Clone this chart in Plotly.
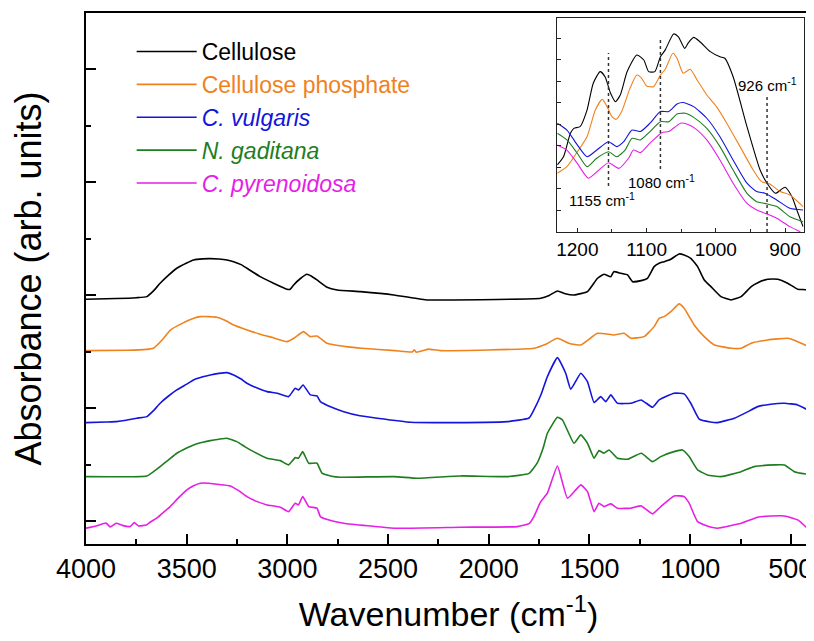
import plotly.graph_objects as go

# ---------------- main spectra (stacked, arb. units) ----------------
cellulose_wn = [4000, 3850, 3750, 3698, 3665, 3632, 3590, 3549, 3500, 3466, 3420, 3383, 3340, 3300,
                3267, 3230, 3201, 3135, 3069, 3002, 2986, 2969, 2935, 2903, 2880, 2853, 2803, 2753,
                2637, 2472, 2306, 2240, 1742, 1700, 1659, 1620, 1577, 1510, 1460, 1428, 1394, 1379,
                1345, 1311, 1286, 1243, 1212, 1179, 1154, 1129, 1096, 1055, 1030, 997, 963, 930,
                897, 847, 797, 747, 697, 664, 615, 565, 516, 466, 416, 400]
cellulose_abs = [3.933, 3.945, 3.960, 3.979, 4.080, 4.216, 4.360, 4.481, 4.575, 4.628, 4.648, 4.651,
                 4.645, 4.628, 4.598, 4.545, 4.481, 4.333, 4.216, 4.110, 4.110, 4.186, 4.300, 4.375,
                 4.340, 4.274, 4.145, 4.097, 4.067, 4.009, 3.920, 3.920, 3.950, 4.000, 4.080, 4.030,
                 4.009, 4.067, 4.304, 4.375, 4.333, 4.421, 4.393, 4.363, 4.244, 4.262, 4.304, 4.510,
                 4.570, 4.598, 4.641, 4.735, 4.717, 4.658, 4.510, 4.274, 4.156, 3.979, 3.920, 3.979,
                 4.156, 4.226, 4.287, 4.287, 4.216, 4.110, 4.097, 4.009]

phosphate_wn = [4000, 3800, 3700, 3665, 3620, 3580, 3520, 3465, 3433, 3390, 3350, 3310, 3267, 3200,
                3140, 3070, 3002, 2968, 2920, 2887, 2853, 2803, 2700, 2630, 2465, 2380, 2370, 2360,
                2320, 2300, 2240, 1775, 1720, 1659, 1600, 1543, 1460, 1378, 1328, 1295, 1229, 1179,
                1154, 1129, 1096, 1055, 1030, 980, 930, 880, 797, 747, 697, 615, 516, 466, 416, 400]
phosphate_abs = [3.023, 3.030, 3.045, 3.065, 3.220, 3.389, 3.510, 3.596, 3.625, 3.625, 3.614, 3.560,
                 3.478, 3.390, 3.319, 3.250, 3.182, 3.242, 3.359, 3.271, 3.283, 3.154, 3.090, 3.065,
                 3.023, 3.000, 3.040, 2.995, 3.030, 3.050, 3.023, 3.065, 3.130, 3.242, 3.150, 3.124,
                 3.331, 3.301, 3.331, 3.242, 3.271, 3.448, 3.596, 3.625, 3.713, 3.850, 3.773, 3.478,
                 3.271, 3.124, 3.065, 3.065, 3.154, 3.212, 3.242, 3.182, 3.094, 2.917]

vulgaris_wn = [4000, 3900, 3850, 3800, 3748, 3698, 3665, 3632, 3590, 3549, 3500, 3466, 3420, 3383,
               3340, 3300, 3267, 3230, 3201, 3150, 3101, 3051, 2994, 2961, 2945, 2922, 2886, 2853,
               2836, 2780, 2720, 2640, 2554, 2389, 2240, 1908, 1800, 1776, 1740, 1709, 1659, 1618,
               1593, 1543, 1510, 1477, 1444, 1419, 1394, 1361, 1295, 1243, 1187, 1154, 1080, 1030,
               997, 955, 900, 864, 781, 720, 665, 600, 532, 466, 400]
vulgaris_abs = [1.749, 1.760, 1.766, 1.790, 1.827, 1.855, 1.960, 2.092, 2.220, 2.327, 2.430, 2.504,
                2.560, 2.593, 2.620, 2.634, 2.593, 2.520, 2.446, 2.360, 2.297, 2.269, 2.209, 2.358,
                2.327, 2.416, 2.239, 2.221, 2.120, 2.020, 1.943, 1.870, 1.827, 1.756, 1.749, 1.766,
                1.830, 1.973, 2.250, 2.563, 2.899, 2.623, 2.340, 2.623, 2.474, 2.103, 2.209, 2.120,
                2.239, 2.092, 2.092, 2.150, 2.021, 2.150, 2.269, 2.257, 2.092, 1.809, 1.760, 1.749,
                1.827, 1.930, 2.032, 2.075, 2.092, 2.062, 1.943]

gaditana_wn = [4000, 3698, 3665, 3632, 3590, 3549, 3500, 3466, 3420, 3383, 3340, 3300, 3251, 3210,
               3168, 3101, 3035, 2994, 2961, 2945, 2924, 2894, 2853, 2828, 2780, 2737, 2470, 2356,
               2140, 1908, 1800, 1760, 1730, 1709, 1659, 1634, 1577, 1543, 1510, 1477, 1453, 1428,
               1403, 1361, 1311, 1243, 1187, 1146, 1080, 1038, 1005, 963, 914, 847, 747, 682, 582,
               532, 483, 400]
gaditana_abs = [0.793, 0.805, 0.880, 0.970, 1.090, 1.207, 1.300, 1.354, 1.400, 1.430, 1.455, 1.473,
                1.412, 1.320, 1.235, 1.119, 1.076, 1.000, 1.129, 1.119, 1.235, 1.030, 1.030, 0.853,
                0.800, 0.782, 0.793, 0.765, 0.805, 0.793, 0.850, 1.030, 1.300, 1.561, 1.844, 1.796,
                1.384, 1.531, 1.384, 1.119, 1.253, 1.207, 1.265, 1.119, 1.101, 1.207, 1.058, 1.147,
                1.235, 1.265, 1.147, 0.912, 0.823, 0.793, 0.881, 0.970, 1.000, 1.000, 0.881, 0.823]

pyrenoidosa_wn = [4000, 3950, 3900, 3880, 3850, 3820, 3780, 3760, 3740, 3700, 3680, 3649, 3615,
                  3582, 3540, 3499, 3466, 3433, 3390, 3350, 3284, 3240, 3201, 3150, 3101, 3035, 2994,
                  2961, 2945, 2924, 2894, 2853, 2836, 2780, 2720, 2470, 2140, 1858, 1800, 1776, 1742,
                  1709, 1659, 1609, 1543, 1510, 1477, 1453, 1428, 1394, 1361, 1295, 1243, 1187, 1146,
                  1080, 1030, 1005, 963, 900, 864, 747, 665, 600, 532, 466, 400]
pyrenoidosa_abs = [-0.120, -0.080, -0.030, -0.100, -0.032, -0.070, -0.090, -0.020, -0.080, -0.062,
                   -0.010, 0.057, 0.160, 0.262, 0.420, 0.558, 0.630, 0.676, 0.676, 0.658, 0.628, 0.540,
                   0.439, 0.350, 0.292, 0.251, 0.173, 0.322, 0.292, 0.439, 0.262, 0.234, 0.085,
                   0.010, -0.032, -0.120, -0.103, -0.092, -0.040, 0.085, 0.350, 0.499, 0.982, 0.411,
                   0.646, 0.527, 0.173, 0.322, 0.262, 0.310, 0.234, 0.234, 0.274, 0.133, 0.262,
                   0.451, 0.439, 0.322, -0.004, -0.100, -0.120, -0.032, 0.074, 0.095, 0.097, 0.027,
                   -0.181]

# ---------------- inset (1230-873 cm-1) ----------------
in_cell_wn = [1229, 1220, 1210, 1205, 1196, 1186, 1177, 1167, 1160, 1152, 1145, 1138, 1128, 1114,
              1104, 1097, 1088, 1080, 1073, 1061, 1054, 1045, 1040, 1032, 1023, 1008, 994, 987, 975,
              955, 936, 926, 914, 900, 890, 883, 874]
in_cell_abs = [3.12, 3.50, 4.59, 4.82, 4.90, 5.67, 6.92, 7.46, 7.22, 6.45, 6.06, 6.37, 7.46, 8.23,
               8.00, 7.46, 7.46, 8.15, 8.47, 9.21, 9.08, 8.54, 8.78, 9.05, 8.85, 8.39, 8.15, 8.08,
               7.22, 4.90, 2.88, 2.27, 1.80, 2.08, 1.64, 1.02, 0.25]
in_phos_wn = [1229, 1215, 1200, 1186, 1174, 1164, 1157, 1150, 1144, 1136, 1124, 1114, 1107, 1100,
              1090, 1080, 1073, 1062, 1056, 1047, 1037, 1027, 1013, 999, 984, 965, 946, 934, 922,
              907, 893, 874]
in_phos_abs = [2.73, 3.04, 3.73, 4.43, 5.67, 6.17, 5.83, 5.36, 5.24, 5.60, 6.68, 7.30, 7.15, 6.79,
               6.76, 7.30, 7.57, 8.31, 8.08, 7.38, 7.57, 7.07, 6.37, 5.83, 5.05, 3.97, 2.88, 2.34,
               2.23, 1.88, 1.72, 1.18]
in_vulg_wn = [1229, 1215, 1200, 1186, 1172, 1155, 1143, 1133, 1121, 1109, 1095, 1080, 1068, 1056,
              1047, 1032, 1013, 994, 975, 955, 941, 929, 912, 893, 874]
in_vulg_abs = [5.06, 4.74, 4.05, 3.50, 3.81, 4.20, 3.97, 4.20, 4.74, 4.67, 5.06, 5.60, 5.60, 5.95,
               6.02, 5.83, 5.29, 4.43, 3.35, 2.27, 1.88, 1.80, 1.49, 1.10, 1.02]
in_gadi_wn = [1229, 1215, 1200, 1186, 1172, 1155, 1143, 1131, 1121, 1109, 1095, 1080, 1068, 1056,
              1044, 1032, 1013, 994, 975, 955, 941, 929, 912, 893, 874]
in_gadi_abs = [4.59, 4.28, 3.66, 3.04, 3.43, 3.73, 3.50, 3.81, 4.36, 4.28, 4.67, 5.13, 5.13, 5.49,
               5.52, 5.33, 4.82, 3.97, 2.88, 1.80, 1.41, 1.33, 1.18, 0.71, 0.48]
in_pyre_wn = [1229, 1215, 1200, 1184, 1169, 1155, 1140, 1126, 1119, 1109, 1095, 1078, 1068, 1051,
              1042, 1030, 1013, 994, 975, 955, 941, 929, 912, 893, 878]
in_pyre_abs = [4.05, 3.81, 3.19, 2.50, 2.88, 3.22, 2.96, 3.43, 3.81, 3.69, 4.13, 4.62, 4.67, 5.06,
               5.02, 4.82, 4.28, 3.35, 2.27, 1.33, 1.02, 0.87, 0.64, 0.25, 0.01]

marker_wn = [1155, 1080, 926]
marker_lo = [2.14, 2.93, 0.0]
marker_hi = [8.33, 9.07, 6.33]

names = ["Cellulose", "Cellulose phosphate", "<i>C. vulgaris</i>", "<i>N. gaditana</i>",
         "<i>C. pyrenoidosa</i>"]
colors = ["#000000", "#f0821e", "#1414dc", "#1e7d1e", "#e61ee6"]
main_sets = [(cellulose_wn, cellulose_abs), (phosphate_wn, phosphate_abs),
             (vulgaris_wn, vulgaris_abs), (gaditana_wn, gaditana_abs),
             (pyrenoidosa_wn, pyrenoidosa_abs)]
inset_sets = [(in_cell_wn, in_cell_abs), (in_phos_wn, in_phos_abs), (in_vulg_wn, in_vulg_abs),
              (in_gadi_wn, in_gadi_abs), (in_pyre_wn, in_pyre_abs)]

FONT = "Liberation Sans, Arial, sans-serif"

fig = go.Figure()
for name, col, (wn, ab) in zip(names, colors, main_sets):
    fig.add_trace(go.Scatter(x=wn, y=ab, mode="lines", name=f'<span style="color:{col}">{name}</span>',
                             line=dict(color=col, width=1.6, shape="spline", smoothing=0.4)))
for col, (wn, ab) in zip(colors, inset_sets):
    fig.add_trace(go.Scatter(x=wn, y=ab, mode="lines", showlegend=False, xaxis="x2", yaxis="y2",
                             line=dict(color=col, width=1.1, shape="spline", smoothing=0.6)))

for w, lo, hi in zip(marker_wn, marker_lo, marker_hi):
    fig.add_shape(type="line", xref="x2", yref="y2", x0=w, x1=w, y0=lo, y1=hi,
                  line=dict(color="#333333", width=1.5, dash="dot"))

for txt, ax, ay in [("926 cm<sup>-1</sup>", 925, 6.84), ("1080 cm<sup>-1</sup>", 1079, 2.33),
                    ("1155 cm<sup>-1</sup>", 1165, 1.49)]:
    fig.add_annotation(text=txt, x=ax, y=ay, xref="x2", yref="y2", showarrow=False,
                       font=dict(size=15, color="#000000", family=FONT))

# the page body adds an 8 px margin, so the figure is sized / offset for it
fig.update_layout(
    width=806, height=625,
    margin=dict(l=78, r=3, t=5, b=89),
    paper_bgcolor="white", plot_bgcolor="white",
    font=dict(family=FONT, color="#000000"),
    showlegend=True,
    legend=dict(x=0.063, y=0.968, xanchor="left", yanchor="top", bgcolor="rgba(0,0,0,0)",
                font=dict(size=23, family=FONT), itemwidth=60, tracegroupgap=0),
    xaxis=dict(range=[4000, 400], automargin=False, showgrid=False, zeroline=False,
               showline=True, linewidth=2,
               linecolor="black", mirror=True, ticks="inside", ticklen=10, tickwidth=1.5,
               tickcolor="black", dtick=500, tick0=0,
               minor=dict(ticks="inside", ticklen=5, tickwidth=1.5, dtick=250, tick0=0,
                          tickcolor="black", showgrid=False),
               tickfont=dict(size=27, family=FONT),
               title=dict(text="Wavenumber (cm<sup>-1</sup>)", font=dict(size=34, family=FONT),
                          standoff=30)),
    yaxis=dict(range=[-0.4, 9.0], automargin=False, showgrid=False, zeroline=False,
               showline=True, linewidth=2,
               linecolor="black", mirror=True, ticks="inside", ticklen=10, tickwidth=1.5,
               tickcolor="black", dtick=2, tick0=0, showticklabels=False,
               minor=dict(ticks="inside", ticklen=5, tickwidth=1.5, dtick=1, tick0=0,
                          tickcolor="black", showgrid=False),
               title=dict(text="Absorbance (arb. units)", font=dict(size=36, family=FONT),
                          standoff=36)),
    xaxis2=dict(domain=[0.65, 0.99], anchor="y2", range=[1229, 873], automargin=False,
                showgrid=False,
                zeroline=False, showline=True, linewidth=1, linecolor="#222222", mirror=True,
                ticks="inside", ticklen=4, tickcolor="#222222", dtick=100, tick0=0,
                minor=dict(ticks="inside", ticklen=3, dtick=50, tick0=0, tickcolor="#222222",
                           showgrid=False),
                tickfont=dict(size=19, family=FONT)),
    yaxis2=dict(domain=[0.5876, 0.9906], anchor="x2", range=[0, 9.953], automargin=False,
                showgrid=False,
                zeroline=False, showline=True, linewidth=1, linecolor="#222222", mirror=True,
                ticks="inside", ticklen=4, tickcolor="#222222", dtick=1, tick0=0,
                showticklabels=False),
)

fig.write_html("out.html")
